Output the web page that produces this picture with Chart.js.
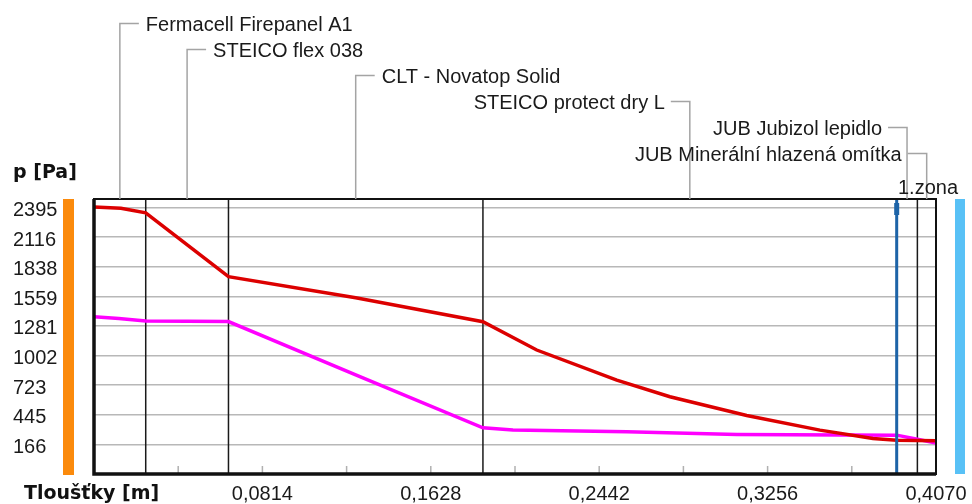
<!DOCTYPE html>
<html>
<head>
<meta charset="utf-8">
<script src="https://cdn.jsdelivr.net/npm/chart.js@4.4.1/dist/chart.umd.min.js"></script>
<style>
  html, body { margin: 0; padding: 0; background: #fff; }
  #wrap { width: 972px; height: 504px; position: relative; }
</style>
</head>
<body>
<div id="wrap"><canvas id="chart" width="972" height="504"></canvas></div>
<script>
// Vrstvy konstrukce (zleva doprava) a jejich rozhraní [m]
const layerNames = ['Fermacell Firepanel A1', 'STEICO flex 038', 'CLT - Novatop Solid',
  'STEICO protect dry L', 'JUB Jubizol lepidlo', 'JUB Minerální hlazená omítka'];
const layerEdges = [0, 0.025, 0.065, 0.188, 0.388, 0.398, 0.407];

// Nasycený tlak vodní páry (červeně)
const satDepth    = [0, 0.013, 0.025, 0.065, 0.1265, 0.188, 0.214, 0.2527, 0.2784, 0.3155, 0.3509, 0.3765, 0.388, 0.398, 0.407];
const satPressure = [2400, 2388, 2345, 1744, 1545, 1320, 1054, 771, 614, 438, 300, 222, 206, 202, 200];

// Částečný tlak vodní páry (fialově)
const partDepth    = [0, 0.012, 0.025, 0.065, 0.1265, 0.188, 0.2025, 0.2576, 0.3108, 0.388, 0.398, 0.407];
const partPressure = [1367, 1350, 1327, 1322, 820, 322, 301, 284, 260, 253, 215, 178];

// Popisky os
const yTicks = [166, 445, 723, 1002, 1281, 1559, 1838, 2116, 2395];
const xTicks = [0, 0.0407, 0.0814, 0.1221, 0.1628, 0.2035, 0.2442, 0.2849, 0.3256, 0.3663, 0.407];
const xTickLabels = ['', '', '0,0814', '', '0,1628', '', '0,2442', '', '0,3256', '', '0,4070'];

const zoneDepth = 0.388;   // 1. zóna kondenzace

const font = "'Liberation Sans', Arial, sans-serif";
const boldFont = "'DejaVu Sans', Verdana, sans-serif";

// Dekorace: vrstvy, rámeček, barevné pruhy, popisky
const decor = {
  id: 'decor',
  beforeDatasetsDraw(chart) {
    const { ctx, chartArea: a, scales: { x } } = chart;
    ctx.save();
    // značky na ose x
    ctx.strokeStyle = '#b0b0b0';
    ctx.lineWidth = 1.5;
    xTicks.forEach(v => {
      const px = x.getPixelForValue(v);
      ctx.beginPath();
      ctx.moveTo(px, a.bottom - 8);
      ctx.lineTo(px, a.bottom);
      ctx.stroke();
    });
    // rozhraní vrstev
    ctx.strokeStyle = '#1a1a1a';
    ctx.lineWidth = 1.5;
    layerEdges.slice(1, -1).forEach(v => {
      const px = x.getPixelForValue(v);
      ctx.beginPath();
      ctx.moveTo(px, a.top);
      ctx.lineTo(px, a.bottom);
      ctx.stroke();
    });
    ctx.restore();
  },
  afterDatasetsDraw(chart) {
    const { ctx, chartArea: a, scales: { x } } = chart;
    ctx.save();

    // zóna kondenzace
    const zx = x.getPixelForValue(zoneDepth);
    ctx.strokeStyle = '#1d64a8';
    ctx.lineWidth = 3;
    ctx.beginPath();
    ctx.moveTo(zx, a.top);
    ctx.lineTo(zx, a.bottom);
    ctx.stroke();
    ctx.fillStyle = '#1d64a8';
    ctx.fillRect(zx - 2.5, a.top + 4, 5, 12);

    // rámeček grafu
    ctx.strokeStyle = '#111';
    ctx.lineWidth = 2;
    ctx.strokeRect(a.left, a.top, a.right - a.left, a.bottom - a.top);
    ctx.lineWidth = 3.5;
    ctx.beginPath();
    ctx.moveTo(a.left, a.top);
    ctx.lineTo(a.left, a.bottom);
    ctx.lineTo(a.right, a.bottom);
    ctx.stroke();

    // barevné pruhy (interiér / exteriér)
    ctx.fillStyle = '#fb8a0c';
    ctx.fillRect(63, a.top, 11, a.bottom - a.top + 1);
    ctx.fillStyle = '#58c1f6';
    ctx.fillRect(955, a.top, 10, a.bottom - a.top);

    // popisky vrstev s odkazovými čarami
    ctx.font = '20px ' + font;
    ctx.textBaseline = 'middle';
    layerNames.forEach((name, i) => {
      const mid = x.getPixelForValue((layerEdges[i] + layerEdges[i + 1]) / 2);
      const cy = 25 + 26 * i;
      const ly = cy - 1.5;
      ctx.strokeStyle = '#a4a4a4';
      ctx.lineWidth = 1.5;
      ctx.beginPath();
      if (i < 3) {
        ctx.moveTo(mid + 19, ly);
        ctx.lineTo(mid, ly);
      } else {
        ctx.moveTo(mid - 19, ly);
        ctx.lineTo(mid, ly);
      }
      ctx.lineTo(mid, a.top);
      ctx.stroke();
      ctx.fillStyle = '#1a1a1a';
      if (i < 3) {
        ctx.textAlign = 'left';
        ctx.fillText(name, mid + 26, cy);
      } else {
        ctx.textAlign = 'right';
        ctx.fillText(name, mid - 25, cy);
      }
    });

    ctx.textAlign = 'left';
    ctx.fillText('1.zona', 898, 188);

    // názvy os
    ctx.font = 'bold 19px ' + boldFont;
    ctx.fillStyle = '#111';
    ctx.fillText('p [Pa]', 13, 173);
    ctx.fillText('Tloušťky [m]', 24, 494);

    ctx.restore();
  }
};

const ctx = document.getElementById('chart').getContext('2d');

const chart = new Chart(ctx, {
  type: 'line',
  data: {
    datasets: [{
      label: 'p sat',
      data: satDepth.map((d, i) => ({ x: d, y: satPressure[i] })),
      borderColor: '#dc0000',
      borderWidth: 3.5,
      pointRadius: 0,
      tension: 0
    }, {
      label: 'p',
      data: partDepth.map((d, i) => ({ x: d, y: partPressure[i] })),
      borderColor: '#ff00ff',
      borderWidth: 3.5,
      pointRadius: 0,
      tension: 0
    }]
  },
  options: {
    responsive: false,
    devicePixelRatio: 1,
    animation: false,
    layout: { padding: { top: 199, left: 13, right: 36, bottom: 0 } },
    plugins: {
      legend: { display: false },
      tooltip: { enabled: false }
    },
    scales: {
      x: {
        type: 'linear',
        min: 0,
        max: 0.407,
        afterBuildTicks: s => { s.ticks = xTicks.map(v => ({ value: v })); },
        afterFit: s => {
          s.height = 30;
          s.paddingLeft = 0;
          s.paddingRight = 0;
        },
        grid: { display: false, drawTicks: false },
        border: { display: false },
        ticks: {
          autoSkip: false,
          maxRotation: 0,
          padding: 8,
          color: '#1a1a1a',
          font: { family: font, size: 20 },
          callback: (v, i) => xTickLabels[i]
        }
      },
      y: {
        min: -112.625,
        max: 2475,
        afterBuildTicks: s => { s.ticks = yTicks.map(v => ({ value: v })); },
        afterFit: s => {
          s.width = 81;
          s.paddingTop = 0;
          s.paddingBottom = 0;
        },
        grid: { color: '#b8b8b8', lineWidth: 1.5, drawTicks: false },
        border: { display: false },
        ticks: {
          crossAlign: 'far',
          padding: 0,
          labelOffset: 3,
          color: '#1a1a1a',
          font: { family: font, size: 20 },
          callback: (v, i) => String(yTicks[i])
        }
      }
    }
  },
  plugins: [decor]
});
</script>
</body>
</html>
